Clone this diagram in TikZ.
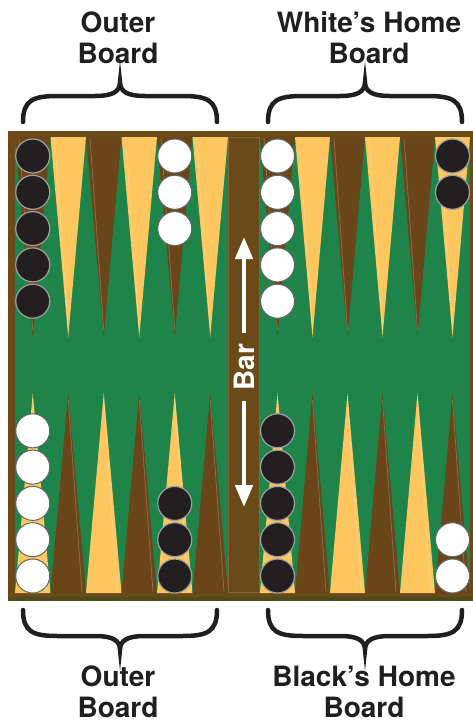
\documentclass[tikz,border=0pt]{standalone}
\usepackage{fontspec}
\setmainfont{TeX Gyre Heros}
\usetikzlibrary{arrows.meta}

\definecolor{frame}{HTML}{6B4A1A}
\definecolor{frameedge}{HTML}{4F4A1C}
\definecolor{felt}{HTML}{1F8449}
\definecolor{lightpt}{HTML}{FDC65F}
\definecolor{darkpt}{HTML}{6A4519}
\definecolor{ckblack}{HTML}{231F20}

\tikzset{
  blackck/.style={circle,minimum size=34pt,inner sep=0pt,fill=ckblack,draw=gray!75,line width=1.2pt},
  whiteck/.style={circle,minimum size=34pt,inner sep=0pt,fill=white,draw=black!60,line width=1pt},
  title/.style={align=center,inner sep=0pt,text=black!88,font=\fontsize{28}{31}\selectfont\bfseries},
  bartext/.style={rotate=90,text=white,inner xsep=10pt,inner ysep=0pt,font=\fontsize{28}{31}\selectfont\bfseries},
  barArrow/.style={white,line width=4.5pt,-{Triangle[length=22pt,width=17pt]}},
  brace/.style={black!88,line width=4.5pt,line cap=round},
  shine/.style={white,opacity=.22,line width=.8pt}
}

\begin{document}
\begin{tikzpicture}[x=1pt,y=-1pt]
    \useasboundingbox (0,0) rectangle (473,723);
    % board
    \fill[frame] (8,131) rectangle (473,601);
    \fill[frameedge] (8,597) rectangle (473,601);
    \fill[felt] (15,137) rectangle (228,593);
    \fill[felt] (260,137) rectangle (470,593);
    \draw[frame!85!white,line width=.5pt] (228.5,137.5) rectangle (259.5,592.5);
    % points
    \foreach \xo/\w in {15/35.5,260/35} {
      \foreach \c [count=\i from 0] in {darkpt,lightpt,darkpt,lightpt,darkpt,lightpt} {
        \fill[\c] (\xo+\i*\w,137) -- (\xo+\i*\w+\w,137) -- (\xo+\i*\w+\w/2,337) -- cycle;
        \draw[shine] (\xo+\i*\w+4,138) -- (\xo+\i*\w+\w/2,330);
      }
      \foreach \c [count=\i from 0] in {lightpt,darkpt,lightpt,darkpt,lightpt,darkpt} {
        \fill[\c] (\xo+\i*\w,593) -- (\xo+\i*\w+\w,593) -- (\xo+\i*\w+\w/2,393) -- cycle;
        \draw[shine] (\xo+\i*\w+\w-4,592) -- (\xo+\i*\w+\w/2,400);
      }
    }
    % checkers
    \foreach \j in {0,...,4} \node[blackck] (tlb\j) at (32.75,156+36.3*\j) {};
    \foreach \j in {0,...,2} \node[whiteck] (tlw\j) at (174.75,156+36.3*\j) {};
    \foreach \j in {0,...,4} \node[whiteck] (trw\j) at (277.5,156+36.3*\j) {};
    \foreach \j in {0,1} \node[blackck] (trb\j) at (452.5,156+36.3*\j) {};
    \foreach \j in {0,...,4} \node[whiteck] (blw\j) at (32.75,576-36.3*\j) {};
    \foreach \j in {0,...,2} \node[blackck] (blb\j) at (174.75,576-36.3*\j) {};
    \foreach \j in {0,...,4} \node[blackck] (brb\j) at (277.5,576-36.3*\j) {};
    \foreach \j in {0,1} \node[whiteck] (brw\j) at (452.5,576-36.3*\j) {};
    % bar
    \node[bartext] (bar) at (244,367) {Bar};
    \coordinate (upTip) at (244,237);
    \coordinate (downTip) at (244,507);
    \draw[barArrow] (bar.east) -- (upTip);
    \draw[barArrow] (bar.west) -- (downTip);
    % braces
    \foreach \xm/\yc/\s in {120/82/1,365/82/1,120/650/-1,365/650/-1}
      \draw[brace,shift={(\xm,\yc)},yscale=\s] (-97,40) .. controls (-97,18) and (-87,14) .. (-62,14)
        -- (-25,14) .. controls (-8,14) and (0,10) .. (0,0)
        .. controls (0,10) and (8,14) .. (25,14) -- (62,14)
        .. controls (87,14) and (97,18) .. (97,40);
    % labels
    \node[title] (tlTitle) at (118,38) {Outer\\Board};
    \node[title] (trTitle) at (369,38) {White’s Home\\Board};
    \node[title] (blTitle) at (118,692) {Outer\\Board};
    \node[title] (brTitle) at (364,692) {Black’s Home\\Board};
\end{tikzpicture}
\end{document}
